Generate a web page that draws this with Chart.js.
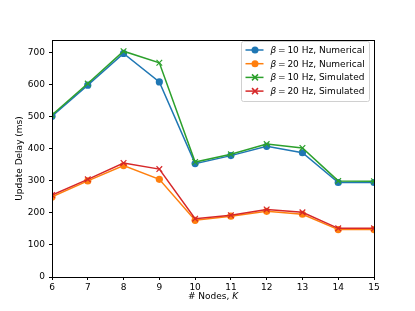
<!DOCTYPE html>
<html lang="en">
<head>
<meta charset="UTF-8">
<title>Update Delay vs Nodes</title>
<script src="https://cdn.jsdelivr.net/npm/chart.js"></script>
<style>
  html, body { margin: 0; padding: 0; background: #ffffff; }
</style>
</head>
<body>
<canvas id="chart" width="415" height="311"></canvas>
<script>
const nodes = [6, 7, 8, 9, 10, 11, 12, 13, 14, 15];
const num10 = [502, 599, 698, 609, 354, 379, 408, 388, 295, 295];
const num20 = [250, 300, 348, 305, 177, 190, 205, 196, 148, 148];
const sim10 = [506, 604, 705, 669, 359, 383, 415, 403, 300, 299];
const sim20 = [256, 305, 356, 337, 182, 193, 211, 202, 152, 152];
const yTicks = [0, 100, 200, 300, 400, 500, 600, 700];

const FONT = 'DejaVu Sans';
const FS = 9;

function pts(vals) {
  return nodes.map((k, i) => ({ x: k, y: vals[i] }));
}

const series = [
  { name: 'Numerical', beta: '10', data: num10, color: '#1f77b4', marker: 'circle', order: 4 },
  { name: 'Numerical', beta: '20', data: num20, color: '#ff7f0e', marker: 'circle', order: 3 },
  { name: 'Simulated', beta: '10', data: sim10, color: '#2ca02c', marker: 'crossRot', order: 2 },
  { name: 'Simulated', beta: '20', data: sim20, color: '#d62728', marker: 'crossRot', order: 1 }
];

// frame, x title with italic K, and legend inside axes
const extras = {
  id: 'extras',
  afterDraw(chart) {
    const ctx = chart.ctx;
    const a = chart.chartArea;
    ctx.save();
    ctx.strokeStyle = '#000';
    ctx.lineWidth = 1;
    ctx.strokeRect(Math.round(a.left) + 0.5, Math.round(a.top) + 0.5,
      Math.round(a.right - a.left), Math.round(a.bottom - a.top));

    // x title
    ctx.fillStyle = '#000';
    ctx.textBaseline = 'alphabetic';
    const t1 = '# Nodes, ';
    ctx.font = FS + 'px "' + FONT + '"';
    const w1 = ctx.measureText(t1).width;
    ctx.font = 'italic ' + FS + 'px "' + FONT + '"';
    const w2 = ctx.measureText('K').width;
    const cx = (a.left + a.right) / 2;
    const x0 = cx - (w1 + w2) / 2;
    ctx.font = FS + 'px "' + FONT + '"';
    ctx.fillText(t1, x0, 299);
    ctx.font = 'italic ' + FS + 'px "' + FONT + '"';
    ctx.fillText('K', x0 + w1, 299);

    // legend
    const lx = 241.5, ly = 41.5, lw = 128, lh = 60;
    ctx.fillStyle = 'rgba(255,255,255,0.8)';
    ctx.strokeStyle = '#d0d0d0';
    ctx.beginPath();
    if (ctx.roundRect) ctx.roundRect(lx, ly, lw, lh, 2); else ctx.rect(lx, ly, lw, lh);
    ctx.fill();
    ctx.stroke();
    series.forEach((s, i) => {
      const y = ly + 8.5 + i * 13.7;
      ctx.strokeStyle = s.color;
      ctx.fillStyle = s.color;
      ctx.lineWidth = 1.5;
      ctx.beginPath();
      ctx.moveTo(lx + 4, y);
      ctx.lineTo(lx + 22, y);
      ctx.stroke();
      if (s.marker === 'circle') {
        ctx.beginPath();
        ctx.arc(lx + 13.5, y, 3.5, 0, Math.PI * 2);
        ctx.fill();
      } else {
        ctx.beginPath();
        ctx.moveTo(lx + 10.5, y - 3); ctx.lineTo(lx + 16.5, y + 3);
        ctx.moveTo(lx + 10.5, y + 3); ctx.lineTo(lx + 16.5, y - 3);
        ctx.stroke();
      }
      ctx.fillStyle = '#000';
      ctx.textBaseline = 'middle';
      let tx = lx + 29;
      ctx.font = 'italic ' + FS + 'px "' + FONT + '"';
      ctx.fillText('\u03b2', tx, y + 0.5);
      tx += ctx.measureText('\u03b2').width;
      ctx.font = FS + 'px "' + FONT + '"';
      ctx.fillText('\u2009=\u2009' + s.beta + ' Hz, ' + s.name, tx, y + 0.5);
    });
    ctx.restore();
  }
};

new Chart(document.getElementById('chart'), {
  type: 'line',
  data: {
    datasets: series.map(s => ({
      label: s.name,
      data: pts(s.data),
      borderColor: s.color,
      backgroundColor: s.color,
      borderWidth: 1.5,
      pointStyle: s.marker,
      pointRadius: s.marker === 'circle' ? 3.6 : 4,
      pointBorderWidth: s.marker === 'circle' ? 0 : 1.2,
      tension: 0,
      order: s.order
    }))
  },
  options: {
    responsive: false,
    animation: false,
    devicePixelRatio: 1,
    layout: { padding: { top: 40, right: 41, left: 14, bottom: 0 } },
    plugins: { legend: { display: false }, tooltip: { enabled: false } },
    scales: {
      x: {
        type: 'linear',
        min: 6, max: 15,
        grid: { drawOnChartArea: false, drawTicks: true, tickLength: 3, color: '#000' },
        border: { color: '#000' },
        ticks: { stepSize: 1, color: '#000', font: { family: FONT, size: FS }, padding: 2, maxRotation: 0 },
        afterFit(scale) { scale.height = 34; }
      },
      y: {
        min: 0, max: 740,
        afterBuildTicks(scale) { scale.ticks = yTicks.map(v => ({ value: v })); },
        grid: { drawOnChartArea: false, drawTicks: true, tickLength: 3, color: '#000' },
        border: { color: '#000' },
        ticks: { color: '#000', font: { family: FONT, size: FS }, padding: 4 },
        title: { display: true, text: 'Update Delay (ms)', color: '#000', font: { family: FONT, size: FS }, padding: { top: 0, bottom: 0 } },
        afterFit(scale) { scale.width = 38; }
      }
    }
  },
  plugins: [extras]
});
</script>
</body>
</html>
